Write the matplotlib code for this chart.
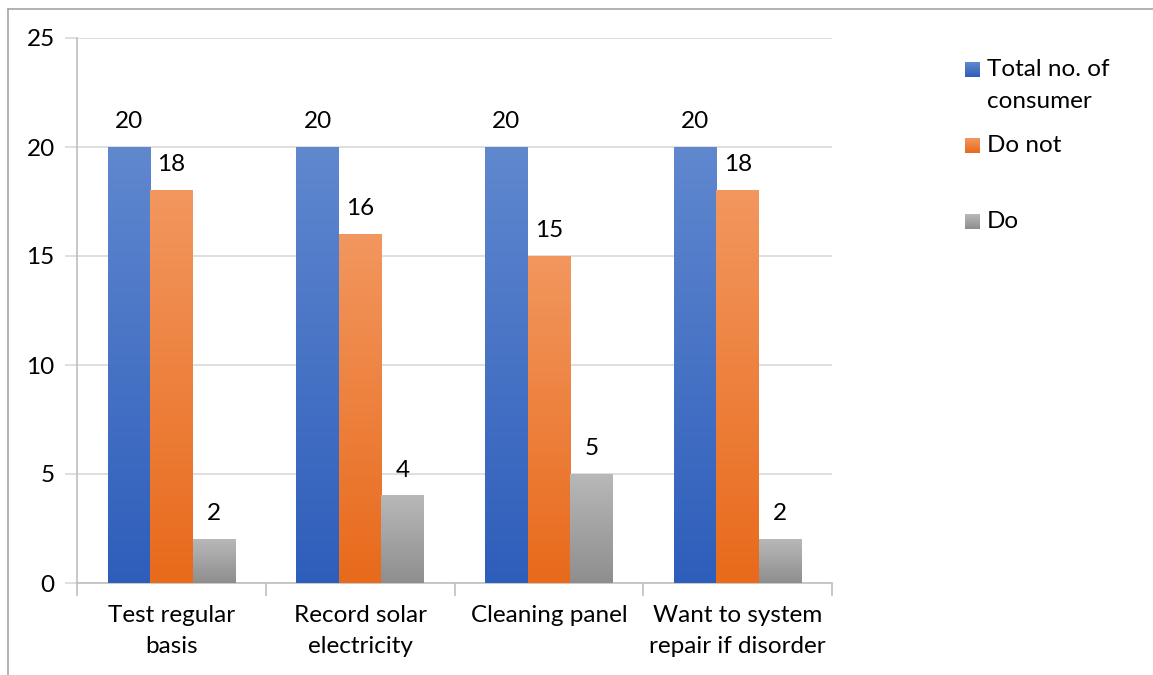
import matplotlib
matplotlib.use("Agg")
import matplotlib.pyplot as plt
import numpy as np
from matplotlib.colors import LinearSegmentedColormap
from matplotlib.lines import Line2D

categories = ["Test regular\nbasis", "Record solar\nelectricity", "Cleaning panel", "Want to system\nrepair if disorder"]
series_names = ["Total no. of\nconsumer", "Do not", "Do"]
total = [20, 20, 20, 20]
do_not = [18, 16, 15, 18]
do = [2, 4, 5, 2]
yticks = [0, 5, 10, 15, 20, 25]

grads = [("#6088CF", "#2E5EBB"), ("#F2975F", "#E86A1B"), ("#B8B8B8", "#8E8E8E")]

plt.rcParams['font.family'] = ['Lato', 'DejaVu Sans']
FS = 17.5
W, H = 1153, 675
fig = plt.figure(figsize=(W/100, H/100), dpi=100)
ax = fig.add_axes([77/W, 1-583/H, (832-77)/W, (583-38)/H])

x = np.arange(len(categories))
bw = 0.225
series = [total, do_not, do]
for i, vals in enumerate(series):
    bars = ax.bar(x + (i-1)*bw, vals, width=bw, color="none", edgecolor="none", zorder=3)
    cmap = LinearSegmentedColormap.from_list("g%d" % i, [grads[i][1], grads[i][0]])
    for b, v in zip(bars, vals):
        x0, w, h = b.get_x(), b.get_width(), b.get_height()
        grad = np.linspace(0, 1, 256).reshape(-1, 1)
        ax.imshow(grad, extent=[x0, x0+w, 0, h], origin="lower", cmap=cmap,
                  aspect="auto", zorder=3, interpolation="bicubic")
        ax.annotate(str(v), (x0 + w/2, h), xytext=(0, 11), textcoords="offset points",
                    ha="center", va="bottom", fontsize=FS, color="#000000", zorder=4)

ax.set_xlim(-0.5, len(categories)-0.5)
ax.set_ylim(0, 25)
ax.set_yticks(yticks)
ax.set_yticklabels([str(t) for t in yticks], fontsize=FS)
ax.grid(axis="y", color="#D9D9D9", linewidth=1.2, zorder=0)
ax.set_axisbelow(True)
ax.set_xticks(np.arange(-0.5, len(categories)), minor=False)
ax.set_xticklabels([])
ax.set_xticks(x, minor=True)
ax.set_xticklabels(categories, minor=True, fontsize=FS, linespacing=1.55)
ax.tick_params(axis="x", which="major", length=9, color="#BFBFBF", width=1.2)
ax.tick_params(axis="x", which="minor", length=0, pad=16)
ax.tick_params(axis="y", length=9, color="#D9D9D9", width=1.2, pad=7)
for s in ["top", "right"]:
    ax.spines[s].set_visible(False)
ax.spines["left"].set_color("#BFBFBF")
ax.spines["bottom"].set_color("#BFBFBF")
ax.spines["left"].set_linewidth(1.2)
ax.spines["bottom"].set_linewidth(1.2)

# legend (manual, Excel style)
leg_y = [70, 146, 222]
for i, (name, yy) in enumerate(zip(series_names, leg_y)):
    cmap = LinearSegmentedColormap.from_list("lg%d" % i, [grads[i][1], grads[i][0]])
    lax = fig.add_axes([965/W, 1-(yy+7)/H, 15/W, 15/H])
    lax.imshow(np.linspace(0, 1, 32).reshape(-1, 1), origin="lower", cmap=cmap, aspect="auto", extent=[0, 1, 0, 1])
    lax.axis("off")
    for j, line in enumerate(name.split("\n")):
        fig.text(987/W, 1-(yy + 31*j)/H, line, ha="left", va="center", fontsize=FS)

# border
fig.add_artist(Line2D([8/W, 8/W], [0, 1-9/H], color="#A6A6A6", lw=1.2))
fig.add_artist(Line2D([8/W, 1], [1-9/H, 1-9/H], color="#A6A6A6", lw=1.2))

fig.savefig("out.png", dpi=100)
